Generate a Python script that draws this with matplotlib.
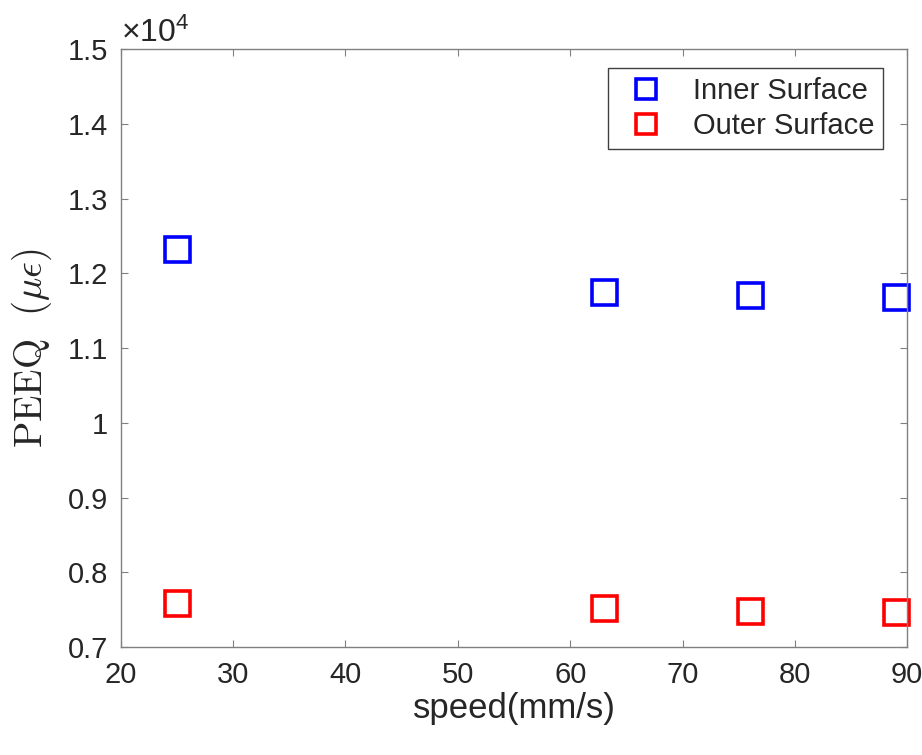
import numpy as np
import matplotlib.pyplot as plt
from matplotlib.ticker import FuncFormatter

plt.rcParams['font.family'] = ['Liberation Sans', 'DejaVu Sans']
plt.rcParams['mathtext.fontset'] = 'cm'

speed = [25, 63, 76, 89]
peeqInner = [12320, 11753, 11709, 11687]
peeqOuter = [7585, 7518, 7486, 7464]

fig = plt.figure(figsize=(9.22, 7.55), dpi=100)
ax = fig.add_axes([0.131, 0.143, 0.853, 0.792])

ax.plot(speed, peeqInner, 's', color='#0000ff', mfc='none', mew=2.6,
        markersize=18, label='Inner Surface', clip_on=False)
ax.plot(speed, peeqOuter, 's', color='#ff0000', mfc='none', mew=2.6,
        markersize=18, label='Outer Surface', clip_on=False)

ax.set_xlim(20, 90)
ax.set_ylim(7000, 15000)
ax.set_xticks(np.arange(20, 91, 10))
ax.set_yticks(np.arange(7000, 15001, 1000))
ax.yaxis.set_major_formatter(FuncFormatter(lambda v, p: f'{v/1e4:g}'))

axcol = '#262626'
for s in ax.spines.values():
    s.set_color('#808080')
    s.set_linewidth(1.0)
ax.tick_params(direction='in', top=True, right=True, length=5,
               color='#808080', labelsize=21, labelcolor=axcol)
ax.tick_params(axis='x', pad=10)
ax.tick_params(axis='y', pad=9)

ax.set_xlabel('speed(mm/s)', fontsize=25, color=axcol, labelpad=2)
ax.set_ylabel(r'$\mathrm{PEEQ}\ \ (\mu\epsilon)$', fontsize=28, color=axcol, labelpad=10)
ax.text(0.0, 1.0, r'$\mathregular{\times10^4}$', transform=ax.transAxes, fontsize=23,
        color=axcol, ha='left', va='bottom')

leg = ax.legend(loc='upper right', fontsize=21, fancybox=False, framealpha=1,
                edgecolor='#404040', borderpad=0.3, handletextpad=0.6,
                labelspacing=0.25, markerscale=0.8, handlelength=2.0,
                borderaxespad=0, bbox_to_anchor=(0.969, 0.968))
leg.get_frame().set_linewidth(1.0)
for t in leg.get_texts():
    t.set_color(axcol)

fig.savefig('out.png', dpi=100)
